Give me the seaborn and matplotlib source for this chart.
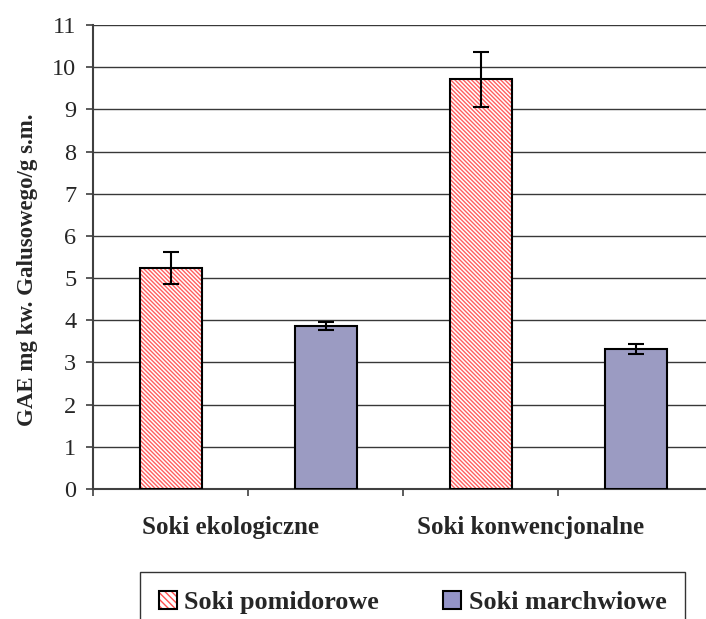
import matplotlib
matplotlib.use('Agg')
import matplotlib.pyplot as plt
from matplotlib.patches import Rectangle
import seaborn as sns
import pandas as pd

# dane
kategorie = ['Soki ekologiczne', 'Soki konwencjonalne']
serie = ['Soki pomidorowe', 'Soki marchwiowe']
pomidorowe = [5.24, 9.71]
marchwiowe = [3.86, 3.32]
pomidorowe_err = [0.37, 0.65]
marchwiowe_err = [0.09, 0.12]
yticks = list(range(0, 12))

df = pd.DataFrame({
    'kategoria': kategorie * 2,
    'seria': [serie[0]] * 2 + [serie[1]] * 2,
    'wartosc': pomidorowe + marchwiowe,
    'blad': pomidorowe_err + marchwiowe_err,
})

sns.set_style('white')
plt.rcParams['font.family'] = ['Liberation Serif', 'DejaVu Serif']
plt.rcParams['hatch.linewidth'] = 1.0

W, H = 706, 619
fig = plt.figure(figsize=(W / 100, H / 100), dpi=100)
ax = fig.add_axes([93 / W, 1 - 489 / H, (W - 93) / W, (489 - 25) / H])

sns.barplot(data=df, x='kategoria', y='wartosc', hue='seria', order=kategorie,
            hue_order=serie, palette=['white', '#9494C8'], width=1.0, gap=0.6,
            edgecolor='black', linewidth=1.5, ax=ax, legend=False, zorder=3)

# kreskowanie dla soków pomidorowych + czarna ramka
for p in ax.containers[0]:
    p.set_hatch('\\' * 8)
    p.set_edgecolor('#FF6060')
    p.set_linewidth(0)
    ax.add_patch(Rectangle(p.get_xy(), p.get_width(), p.get_height(), fill=False,
                           edgecolor='black', linewidth=1.5, zorder=4))

# słupki błędów
for cont, err in zip(ax.containers, [pomidorowe_err, marchwiowe_err]):
    xs = [p.get_x() + p.get_width() / 2 for p in cont]
    ys = [p.get_height() for p in cont]
    ax.errorbar(xs, ys, yerr=err, fmt='none', ecolor='black', elinewidth=1.5,
                capsize=5.5, capthick=1.5, zorder=5)

ax.set_ylim(0, 11)
ax.set_xlim(-0.5, 1.477)
ax.set_yticks(yticks)
ax.set_yticklabels([str(t) for t in yticks], fontsize=17.5)
ax.set_xticks([-0.5, 0, 0.5, 1])
ax.set_xticklabels([])
ax.tick_params(axis='both', direction='out', length=5, width=1.2, color='#404040',
               left=True, bottom=True)
ax.tick_params(axis='y', pad=7)
ax.yaxis.grid(True, color='#383838', linewidth=1)
ax.set_axisbelow(True)
for s in ['top', 'right']:
    ax.spines[s].set_visible(False)
for s in ['left', 'bottom']:
    ax.spines[s].set_color('#404040')
    ax.spines[s].set_linewidth(1.5)
ax.set_xlabel('')
ax.set_ylabel('GAE mg kw. Galusowego/g s.m.', fontsize=16.5, fontweight='bold')
ax.yaxis.set_label_coords(-0.09, 0.472)

for i, (k, dx) in enumerate(zip(kategorie, [-0.056, -0.09])):
    ax.text(i + dx, -0.082, k, transform=ax.get_xaxis_transform(), ha='center',
            va='center', fontsize=18, fontweight='bold')

# legenda: kreskowany kwadrat z czarną ramką
uchwyt_pom = (Rectangle((0, 0), 1, 1, facecolor='white', edgecolor='#FF5050', hatch='\\' * 5, linewidth=0),
              Rectangle((0, 0), 1, 1, fill=False, edgecolor='black', linewidth=1.5))
uchwyt_mar = Rectangle((0, 0), 1, 1, facecolor='#9494C8', edgecolor='black', linewidth=1.5)
leg = fig.legend([uchwyt_pom, uchwyt_mar], serie, loc='upper left', ncol=2,
                 bbox_to_anchor=(140 / W, 1 - 572 / H),
                 prop={'weight': 'bold', 'size': 18.8}, frameon=True, fancybox=False,
                 handlelength=0.68, handleheight=0.68, handletextpad=0.3,
                 borderpad=0.72, columnspacing=2.45, borderaxespad=0)
leg.get_frame().set_edgecolor('black')
leg.get_frame().set_linewidth(1.0)

fig.savefig('out.png', dpi=100)
